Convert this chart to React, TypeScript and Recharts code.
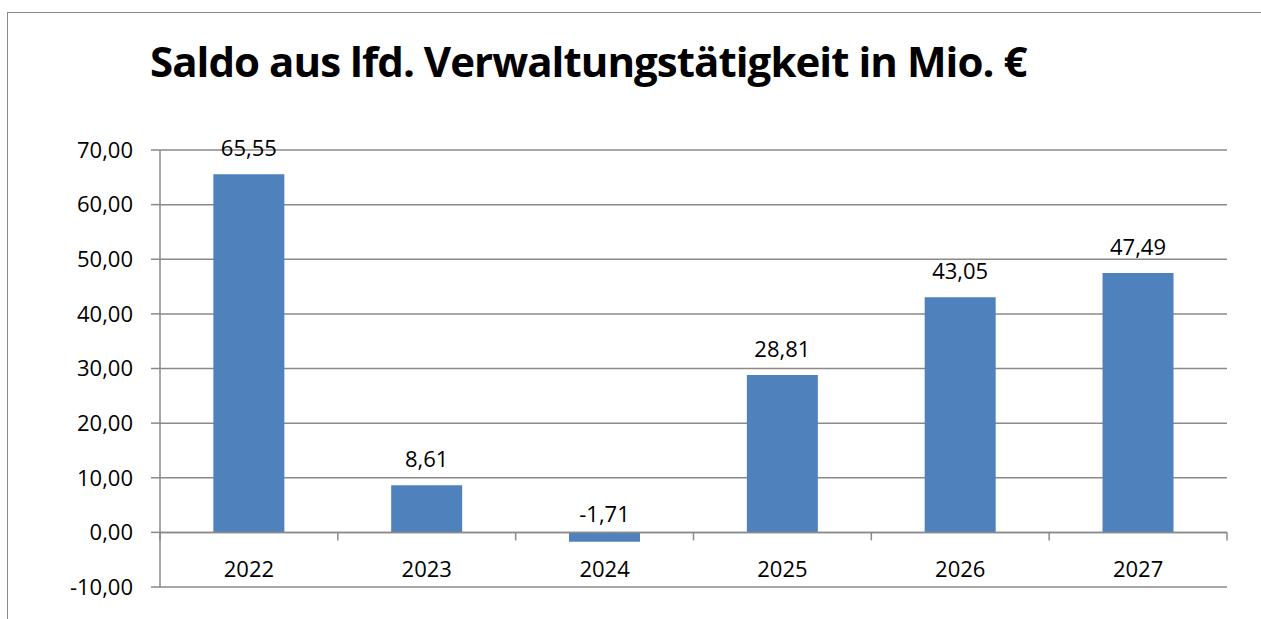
import { BarChart, Bar, XAxis, YAxis, CartesianGrid, ReferenceLine, LabelList } from 'recharts';

const years = ['2022', '2023', '2024', '2025', '2026', '2027'];
const saldo = [65.55, 8.61, -1.71, 28.81, 43.05, 47.49];
const yTicks = [-10, 0, 10, 20, 30, 40, 50, 60, 70];

const data = years.map((year, i) => ({ year, saldo: saldo[i] }));

const W = 1261;
const H = 619;
const MARGIN = { top: 150, right: 34, bottom: 30, left: 0 };
const X_H = 2;
const PLOT_H = H - MARGIN.top - MARGIN.bottom - X_H;
const ZERO_OFFSET = PLOT_H / 8; // distance from bottom (-10) to the 0 line
const GRID = '#8a8a8a';
const FONT = '"Open Sans", "Noto Sans", sans-serif';

const fmt = (v: number) => v.toFixed(2).replace('.', ',');

function CategoryTick(props: any) {
  const { x, y, payload, index } = props;
  const half = payload?.offset ?? 0;
  const zeroY = y - ZERO_OFFSET;
  return (
    <g>
      <line x1={x + half} x2={x + half} y1={zeroY} y2={zeroY + 8} stroke={GRID} strokeWidth={1.5} />
      {index === 0 && (
        <line x1={x - half} x2={x - half} y1={zeroY} y2={zeroY + 8} stroke={GRID} strokeWidth={1.5} />
      )}
      <text x={x} y={y - 19} textAnchor="middle" dominantBaseline="central" fontSize={22} fill="#000" fontFamily={FONT}>
        {payload.value}
      </text>
    </g>
  );
}

function ValueLabel(props: any) {
  const { x, y, width, height, value } = props;
  const top = Math.min(y, y + height);
  const neg = value < 0;
  return (
    <text
      x={x + width / 2}
      y={neg ? top - 19 : top - 27}
      textAnchor="middle"
      dominantBaseline="central"
      fontSize={22}
      fill="#000"
      fontFamily={FONT}
    >
      {fmt(value)}
    </text>
  );
}

export default function App() {
  return (
    <div style={{ position: 'absolute', left: 0, top: 0, width: W, height: H, background: '#fff', overflow: 'hidden', fontFamily: FONT }}>
      <div
        style={{
          position: 'absolute',
          left: 7,
          top: 12,
          width: W,
          height: H,
          borderLeft: '1.5px solid #8a8a8a',
          borderTop: '1.5px solid #8a8a8a',
        }}
      />
      <div
        style={{
          position: 'absolute',
          left: 150,
          top: 32,
          fontSize: 42,
          fontWeight: 700,
          lineHeight: '58px',
          color: '#000',
          whiteSpace: 'nowrap',
          letterSpacing: -0.95,
        }}
      >
        Saldo aus lfd. Verwaltungstätigkeit in Mio. €
      </div>
      <div style={{ position: 'absolute', left: 0, top: 0 }}>
        <BarChart width={W} height={H} data={data} margin={MARGIN} barCategoryGap="30%">
          <CartesianGrid vertical={false} stroke={GRID} strokeWidth={1.5} />
          <XAxis
            dataKey="year"
            height={X_H}
            axisLine={false}
            tickLine={false}
            tickSize={0}
            tickMargin={0}
            tick={(p: any) => <CategoryTick {...p} />}
            interval={0}
          />
          <YAxis
            width={160}
            domain={[-10, 70]}
            ticks={yTicks}
            interval={0}
            tickFormatter={fmt}
            tick={{ fontSize: 22, fill: '#000', fontFamily: FONT }}
            tickSize={9}
            tickMargin={18}
            axisLine={{ stroke: GRID, strokeWidth: 1.5 }}
            tickLine={{ stroke: GRID, strokeWidth: 1.5 }}
          />
          <ReferenceLine y={0} stroke={GRID} strokeWidth={1.5} />
          <Bar dataKey="saldo" fill="#4F81BD" isAnimationActive={false}>
            <LabelList dataKey="saldo" content={<ValueLabel />} />
          </Bar>
        </BarChart>
      </div>
    </div>
  );
}
